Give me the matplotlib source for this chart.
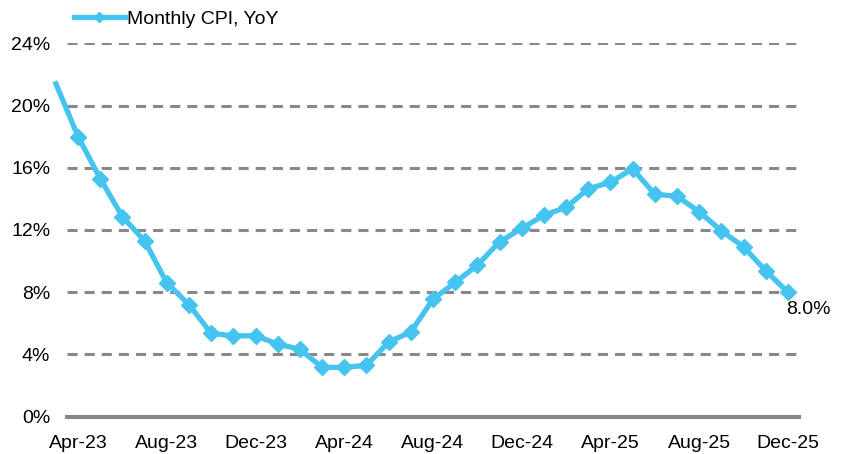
import matplotlib
matplotlib.use("Agg")
import matplotlib.pyplot as plt
from matplotlib.lines import Line2D

plt.rcParams['font.family'] = ['Liberation Sans', 'DejaVu Sans']

months = ["Mar-23", "Apr-23", "May-23", "Jun-23", "Jul-23", "Aug-23", "Sep-23", "Oct-23",
          "Nov-23", "Dec-23", "Jan-24", "Feb-24", "Mar-24", "Apr-24", "May-24", "Jun-24",
          "Jul-24", "Aug-24", "Sep-24", "Oct-24", "Nov-24", "Dec-24", "Jan-25", "Feb-25",
          "Mar-25", "Apr-25", "May-25", "Jun-25", "Jul-25", "Aug-25", "Sep-25", "Oct-25",
          "Nov-25", "Dec-25"]
cpi_yoy = [21.4, 18.0, 15.3, 12.85, 11.3, 8.6, 7.2, 5.35,
           5.2, 5.2, 4.67, 4.33, 3.17, 3.17, 3.3, 4.8,
           5.45, 7.55, 8.63, 9.74, 11.24, 12.1, 12.95, 13.45,
           14.65, 15.07, 15.93, 14.3, 14.17, 13.17, 11.95, 10.92,
           9.38, 8.0]
tick_labels = ["Apr-23", "Aug-23", "Dec-23", "Apr-24", "Aug-24", "Dec-24", "Apr-25", "Aug-25", "Dec-25"]
y_ticks = [0, 4, 8, 12, 16, 20, 24]
series_name = "Monthly CPI, YoY"
last_label = "8.0%"

W, H = 846, 454
fig = plt.figure(figsize=(W / 100, H / 100), dpi=100)
ax = fig.add_axes([67 / W, (H - 416.7) / H, (799 - 67) / W, (416.7 - 43.3) / H])

x = list(range(len(months)))
color = "#45C4F0"
ax.plot(x, cpi_yoy, color=color, lw=3.8, marker="D", ms=8.5, markevery=list(range(1, len(x))),
        clip_on=False, zorder=3)

ax.set_xlim(0.5, len(months) - 0.5)
ax.set_ylim(0, 24)
ax.set_yticks(y_ticks)
ax.set_yticklabels([f"{v}%" for v in y_ticks], fontsize=14, color="#000000")
tick_pos = [months.index(m) for m in tick_labels]
ax.set_xticks(tick_pos)
ax.set_xticklabels(tick_labels, fontsize=14, color="#000000")
ax.tick_params(axis="both", length=0)
ax.tick_params(axis="x", pad=13)
ax.tick_params(axis="y", pad=12)

for v in y_ticks[1:]:
    ax.axhline(v, color="#888888", lw=2.2, dashes=(3.3, 2.3), zorder=1)
for s in ["top", "right", "left"]:
    ax.spines[s].set_visible(False)
ax.spines["bottom"].set_color("#888888")
ax.spines["bottom"].set_linewidth(3)
ax.spines["bottom"].set_zorder(2)

ax.annotate(last_label, (x[-1], cpi_yoy[-1]), xytext=(-1, -6), textcoords="offset points",
            ha="left", va="top", fontsize=14, color="#000000", annotation_clip=False)

h = Line2D([], [], color=color, lw=3.8, marker="D", ms=5)
leg = fig.legend([h], [series_name], loc="upper left", bbox_to_anchor=(74 / W, 1 - 10 / H),
                 frameon=False, fontsize=14, handlelength=2.6, handletextpad=0.15,
                 borderaxespad=0, borderpad=0)

fig.savefig("out.png", dpi=100)
